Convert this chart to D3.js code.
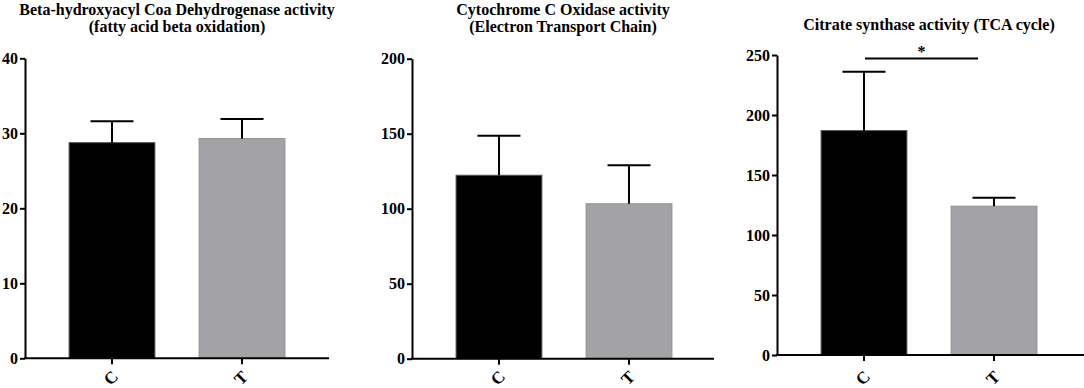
<!DOCTYPE html>
<html>
<head>
<meta charset="utf-8">
<script src="https://cdn.jsdelivr.net/npm/d3@7"></script>
<style>
  body { margin: 0; background: #fff; }
</style>
</head>
<body>
<svg width="1084" height="388"></svg>
<script>
const svg = d3.select('svg');
const serif = '"Liberation Serif", "Times New Roman", serif';

// data
const groups = ['C', 'T'];
const titles = [
  ['Beta-hydroxyacyl Coa Dehydrogenase activity', '(fatty acid beta oxidation)'],
  ['Cytochrome C Oxidase activity', '(Electron Transport Chain)'],
  ['Citrate synthase activity (TCA cycle)']
];
const hadhMeans = [28.75, 29.3];
const hadhErrors = [2.85, 2.6];
const coxMeans = [122.3, 103.3];
const coxErrors = [26.4, 25.6];
const csMeans = [187, 124];
const csErrors = [49, 7];
const yMaxes = [40, 200, 250];
const yTicks = [
  [0, 10, 20, 30, 40],
  [0, 50, 100, 150, 200],
  [0, 50, 100, 150, 200, 250]
];
const csSignificance = { from: 'C', to: 'T', value: 247, label: '*' };

const barColors = ['#000000', '#a3a2a7'];
const barStrokes = ['#555555', '#909094'];

const panels = [
  { means: hadhMeans, errors: hadhErrors, x: 25,  top: 58.3, w: 304, titleX: 177, titleY: [15, 32] },
  { means: coxMeans,  errors: coxErrors,  x: 412, top: 58.7, w: 302, titleX: 563, titleY: [15, 32] },
  { means: csMeans,   errors: csErrors,   x: 777, top: 55,   w: 310, titleX: 929, titleY: [30] }
];
const innerHeight = 300;

const serifText = sel => sel
  .style('font-family', serif)
  .style('font-weight', 'bold')
  .attr('fill', '#000');

panels.forEach((p, i) => {
  const g = svg.append('g')
    .attr('transform', `translate(${p.x},${p.top})`);

  const xScale = d3.scaleBand()
    .domain(groups)
    .range([0, 304])
    .paddingInner(0.34)
    .paddingOuter(0.339);

  const yScale = d3.scaleLinear()
    .domain([0, yMaxes[i]])
    .range([innerHeight, 0]);

  // bars
  g.selectAll('rect')
    .data(groups).enter()
    .append('rect')
      .attr('x', d => xScale(d))
      .attr('y', (d, j) => yScale(p.means[j]))
      .attr('width', xScale.bandwidth())
      .attr('height', (d, j) => innerHeight - yScale(p.means[j]))
      .attr('fill', (d, j) => barColors[j])
      .attr('stroke', (d, j) => barStrokes[j])
      .attr('stroke-width', 1);

  // error bars (upper only)
  const cx = d => xScale(d) + xScale.bandwidth() / 2;
  const err = g.selectAll('.err')
    .data(groups).enter()
    .append('g').attr('class', 'err')
    .attr('stroke', '#000').attr('stroke-width', 2);
  err.append('line')
    .attr('x1', cx).attr('x2', cx)
    .attr('y1', (d, j) => yScale(p.means[j]))
    .attr('y2', (d, j) => yScale(p.means[j] + p.errors[j]));
  err.append('line')
    .attr('x1', d => cx(d) - 21.5).attr('x2', d => cx(d) + 21.5)
    .attr('y1', (d, j) => yScale(p.means[j] + p.errors[j]))
    .attr('y2', (d, j) => yScale(p.means[j] + p.errors[j]));

  // y axis
  const yAxisG = g.append('g')
    .call(d3.axisLeft(yScale).tickValues(yTicks[i]).tickSize(5).tickPadding(2).tickSizeOuter(0));
  yAxisG.selectAll('path, line').attr('stroke', '#000').attr('stroke-width', 2);
  yAxisG.selectAll('text').call(serifText).style('font-size', '16px');

  // x axis
  const xAxisG = g.append('g')
    .attr('transform', `translate(0,${innerHeight})`)
    .call(d3.axisBottom(xScale).tickSize(6).tickSizeOuter(0).tickFormat(''));
  xAxisG.select('.domain').attr('d', `M-1,0H${p.w}`);
  xAxisG.selectAll('path, line').attr('stroke', '#000').attr('stroke-width', 2);

  // rotated category labels
  g.selectAll('.xlab')
    .data(groups).enter()
    .append('text')
      .attr('class', 'xlab')
      .attr('transform', d => `translate(${cx(d) - 1},${388 - p.top - 10}) rotate(-45)`)
      .attr('text-anchor', 'middle')
      .attr('dominant-baseline', 'central')
      .style('font-size', '17px')
      .call(serifText)
      .text(d => d);

  // title
  titles[i].forEach((t, k) => {
    svg.append('text')
      .attr('x', p.titleX)
      .attr('y', p.titleY[k])
      .attr('text-anchor', 'middle')
      .style('font-size', '16px')
      .call(serifText)
      .text(t);
  });

  // significance marker
  if (i === 2) {
    const sy = yScale(csSignificance.value);
    g.append('line')
      .attr('x1', cx(csSignificance.from) + 1)
      .attr('x2', cx(csSignificance.to) - 16)
      .attr('y1', sy).attr('y2', sy)
      .attr('stroke', '#000').attr('stroke-width', 2);
    g.append('text')
      .attr('x', (cx(csSignificance.from) + cx(csSignificance.to) - 15) / 2)
      .attr('y', sy - 2)
      .attr('text-anchor', 'middle')
      .style('font-size', '16px')
      .call(serifText)
      .text(csSignificance.label);
  }
});
</script>
</body>
</html>
